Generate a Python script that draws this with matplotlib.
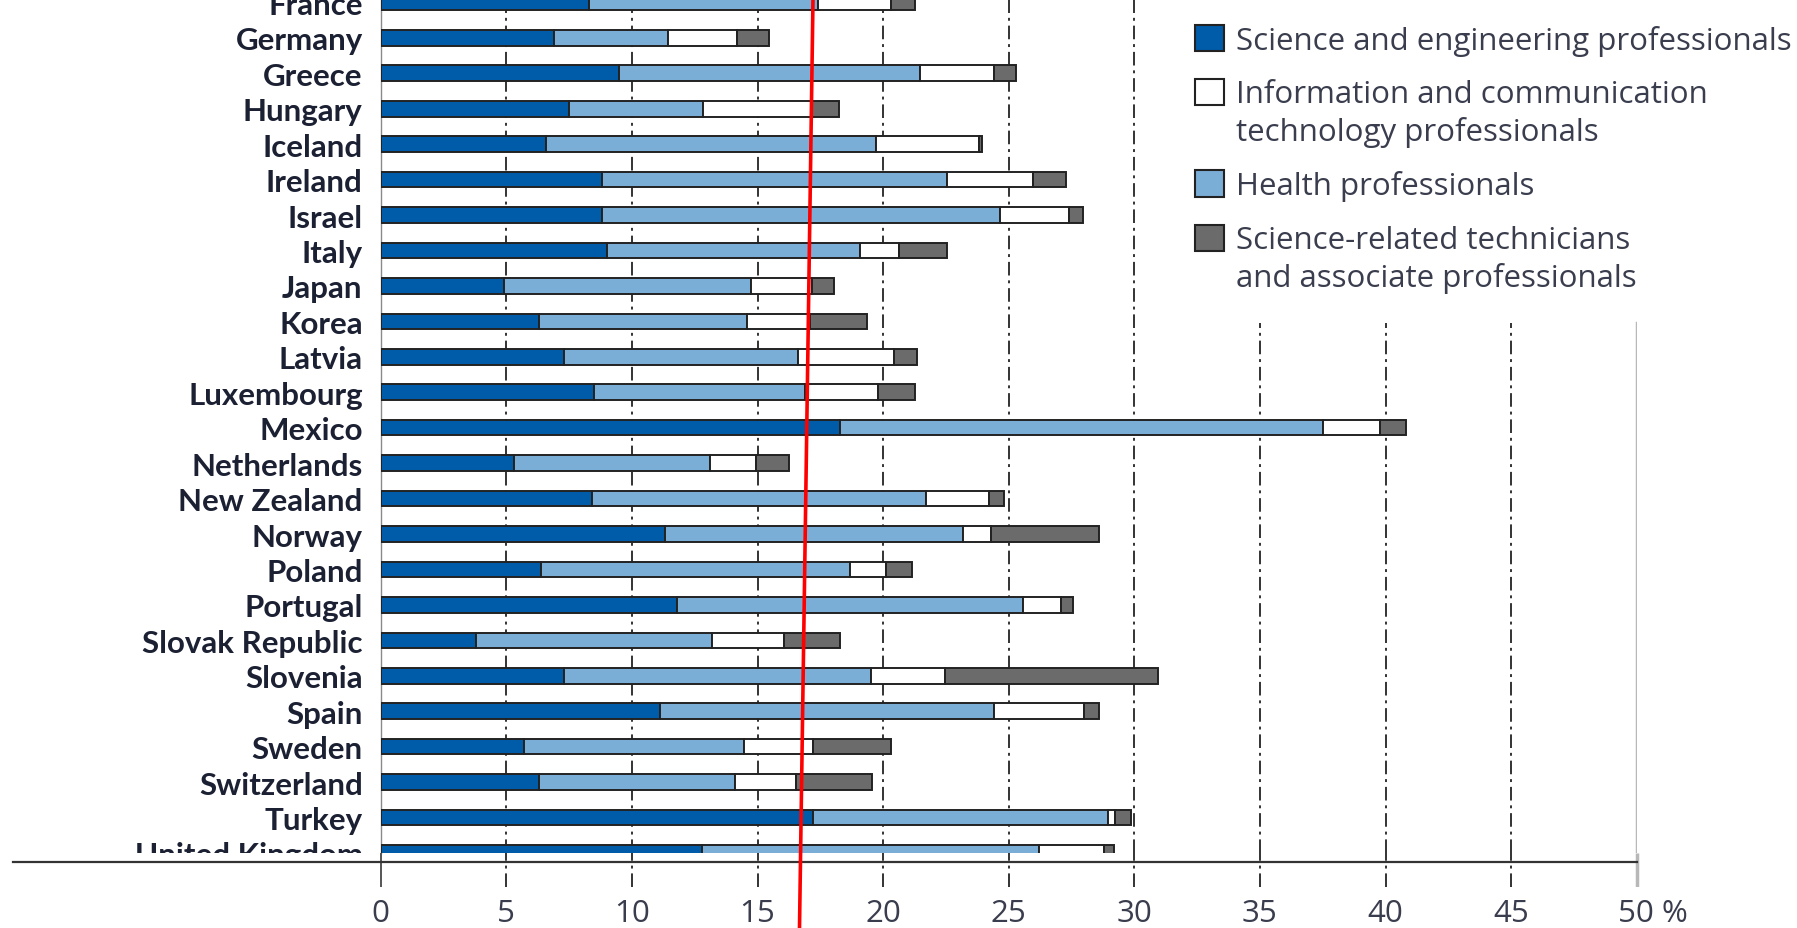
import matplotlib
matplotlib.use("Agg")
import matplotlib.pyplot as plt
import matplotlib.patches as patches
from matplotlib.lines import Line2D
from matplotlib.transforms import Bbox, TransformedBbox, ScaledTranslation
import numpy as np

# Share of employment, % (stacked)
countries = ["France", "Germany", "Greece", "Hungary", "Iceland", "Ireland", "Israel",
             "Italy", "Japan", "Korea", "Latvia", "Luxembourg", "Mexico", "Netherlands",
             "New Zealand", "Norway", "Poland", "Portugal", "Slovak Republic", "Slovenia",
             "Spain", "Sweden", "Switzerland", "Turkey", "United Kingdom"]
sci_eng = [8.3, 6.9, 9.5, 7.5, 6.6, 8.8, 8.8, 9.0, 4.9, 6.3, 7.3, 8.5, 18.3, 5.3,
           8.4, 11.3, 6.4, 11.8, 3.8, 7.3, 11.1, 5.7, 6.3, 17.2, 12.8]
health = [9.1, 4.55, 11.95, 5.35, 13.1, 13.75, 15.85, 10.1, 9.85, 8.3, 9.3, 8.4, 19.2, 7.8,
          13.3, 11.9, 12.3, 13.75, 9.4, 12.2, 13.3, 8.75, 7.8, 11.75, 13.4]
ict = [2.9, 2.75, 2.95, 4.3, 4.1, 3.4, 2.75, 1.55, 2.4, 2.5, 3.85, 2.9, 2.3, 1.85,
       2.5, 1.1, 1.4, 1.55, 2.85, 2.95, 3.6, 2.75, 2.45, 0.3, 2.6]
technicians = [0.95, 1.25, 0.9, 1.1, 0.15, 1.35, 0.55, 1.9, 0.9, 2.25, 0.9, 1.45, 1.0, 1.3,
               0.6, 4.3, 1.05, 0.45, 2.25, 8.5, 0.6, 3.1, 3.0, 0.6, 0.4]

series = [sci_eng, health, ict, technicians]
series_colors = ["#005BA8", "#7BAED6", "#FFFFFF", "#6B6B6B"]

legend_labels = ["Science and engineering professionals",
                 "Information and communication\ntechnology professionals",
                 "Health professionals",
                 "Science-related technicians\nand associate professionals"]
legend_colors = ["#005BA8", "#FFFFFF", "#7BAED6", "#6B6B6B"]

ticks = [0, 5, 10, 15, 20, 25, 30, 35, 40, 45, 50]
tick_labels = ["0", "5", "10", "15", "20", "25", "30", "35", "40", "45", "50 %"]

W, H = 1797, 929
ROW = 35.6          # px per country row
X0, XU = 380.7, 25.12   # px of value 0, px per unit
CLIP = 854          # px where the crop cuts the plot area

def box(x0, y0, x1, y1):
    # pixel box measured from top-left -> figure fraction
    return [x0 / W, 1 - y1 / H, (x1 - x0) / W, (y1 - y0) / H]

fig = plt.figure(figsize=(W / 100, H / 100), dpi=100)
fig.patch.set_facecolor("white")

label_font = ["Lato", "DejaVu Sans"]
text_font = ["Open Sans", "DejaVu Sans"]
dash = (0, (7, 2.5, 1.5, 2.5))

ax = fig.add_axes(box(X0, 0, X0 + 50 * XU, CLIP))
ax.set_xlim(0, 50)
top = -3.4 / ROW
ax.set_ylim(top + CLIP / ROW, top)

y = np.arange(len(countries))
left = np.zeros(len(countries))
for vals, c in zip(series, series_colors):
    ax.barh(y, vals, left=left, height=0.44, color=c, edgecolor="#222222",
            linewidth=1.4, zorder=3)
    left += np.array(vals)

for v in ticks[1:-1]:
    ax.axvline(v, color="#333333", lw=1.4, ls=dash, zorder=1)

# white area behind the legend hides the upper grid
legend_bottom = 1 - 324 / CLIP
ax.add_patch(patches.Rectangle((0.6205, legend_bottom), 0.5, 1 - legend_bottom,
                               transform=ax.transAxes, facecolor="white",
                               edgecolor="none", zorder=2, clip_on=False))
ax.axvline(50, ymax=legend_bottom, color="#B8B8B8", lw=2.5, zorder=2)

for s in ["top", "right", "bottom"]:
    ax.spines[s].set_visible(False)
ax.spines["left"].set_color("#8A8A8A")
ax.spines["left"].set_linewidth(1.0)
ax.set_xticks([])
ax.set_yticks(y, countries)
ax.tick_params(axis="y", length=0, pad=13)
clipbb = TransformedBbox(Bbox([[0, 1 - CLIP / H], [1, 1]]), fig.transFigure)
for lbl in ax.get_yticklabels():
    lbl.set_fontfamily(label_font)
    lbl.set_fontweight("bold")
    lbl.set_fontsize(22.5)
    lbl.set_color("#1B2033")
    lbl.set_clip_box(clipbb)
    lbl.set_clip_on(True)

# x axis strip below the crop line
ax2 = fig.add_axes(box(0, CLIP, W, 888))
ax2.set_xlim(-X0 / XU, (W - X0) / XU)
ax2.set_ylim(0, 1)
ax2.patch.set_visible(False)
for s in ["top", "right", "left"]:
    ax2.spines[s].set_visible(False)
ax2.spines["bottom"].set_position(("axes", 25 / 34))
ax2.spines["bottom"].set_bounds(-(X0 - 12.7) / XU, 50)
ax2.spines["bottom"].set_color("#333333")
ax2.spines["bottom"].set_linewidth(1.6)
ax2.set_yticks([])
ax2.vlines(ticks[:1], 0, 1, color="#555555", lw=1.4)
ax2.vlines(ticks[1:-1], 0, 1, color="#333333", lw=1.4, linestyles=[dash])
ax2.vlines(ticks[-1:], 0, 1, color="#B8B8B8", lw=2.5)
ax2.set_xticks(ticks, tick_labels)
ax2.tick_params(axis="x", length=0, pad=26)
for lbl in ax2.get_xticklabels():
    lbl.set_fontfamily(text_font)
    lbl.set_fontsize(22.5)
    lbl.set_color("#3A3D4D")
last = ax2.get_xticklabels()[-1]
last.set_ha("left")
last.set_transform(last.get_transform() + ScaledTranslation(-0.19, 0, fig.dpi_scale_trans))

# legend
handles = [patches.Patch(facecolor=c, edgecolor="#222222", linewidth=1.5) for c in legend_colors]
leg = fig.legend(handles, legend_labels, loc="upper left", bbox_to_anchor=(1195 / W, 1 - 26 / H),
                 frameon=False, borderpad=0, borderaxespad=0, handlelength=0.92,
                 handleheight=0.92, handletextpad=0.4, labelspacing=0.74,
                 labelcolor="#3A3D4D", prop={"family": text_font, "size": 22.5})
for t in leg.get_texts():
    t.set_linespacing(1.3)
# handles sit next to the first line of each label
for col in leg._legend_handle_box.get_children():
    for item in col.get_children():
        item.align = "top"

# red marker line drawn over the chart
fig.add_artist(Line2D([813 / W, 799.5 / W], [1, 0], color="#FF0000", lw=2.6))

fig.savefig("out.png", dpi=100)
